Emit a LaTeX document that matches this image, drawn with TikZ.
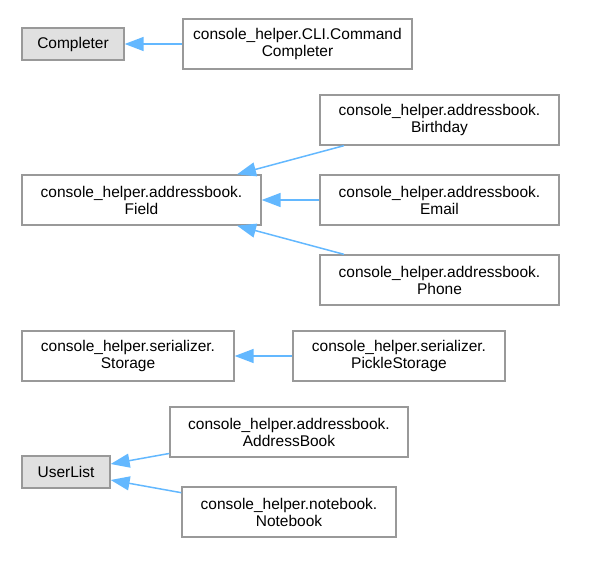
\documentclass[tikz,border=0pt]{standalone}
\usepackage{fontspec}
\setmainfont{Liberation Sans}
\usetikzlibrary{arrows.meta}
\definecolor{edgeblue}{HTML}{63B8FF}
\definecolor{boxgray}{HTML}{999999}
\definecolor{extfill}{HTML}{E0E0E0}
\tikzset{
	cls/.style={draw=boxgray, line width=1.3pt, fill=white, align=center, inner sep=0pt,
		minimum height=50pt, font=\fontsize{15.5}{17}\selectfont},
	extcls/.style={cls, fill=extfill, minimum height=32pt},
	inherit/.style={edgeblue, line width=1.5pt, -{Triangle[length=19pt, width=14pt]}}
}
\begin{document}
\begin{tikzpicture}[x=1pt, y=-1pt]
	\useasboundingbox (0, 0) rectangle (592, 575);
	% completer
	\node[extcls, minimum width=102pt] (completer) at (73, 44) {Completer};
	\node[cls, minimum width=229pt] (cmdcompleter) at (297.5, 44) {console\_helper.CLI.Command\\Completer};
	% fields
	\node[cls, minimum width=239pt] (field) at (141.5, 200) {console\_helper.addressbook.\\Field};
	\node[cls, minimum width=239pt] (birthday) at (439.5, 120) {console\_helper.addressbook.\\Birthday};
	\node[cls, minimum width=239pt] (email) at (439.5, 200) {console\_helper.addressbook.\\Email};
	\node[cls, minimum width=239pt] (phone) at (439.5, 280) {console\_helper.addressbook.\\Phone};
	% storage
	\node[cls, minimum width=212pt] (storage) at (128, 356) {console\_helper.serializer.\\Storage};
	\node[cls, minimum width=212pt] (picklestorage) at (399, 356) {console\_helper.serializer.\\PickleStorage};
	% userlist
	\node[extcls, minimum width=88pt] (userlist) at (66, 472) {UserList};
	\node[cls, minimum width=238pt] (addressbook) at (289, 432) {console\_helper.addressbook.\\AddressBook};
	\node[cls, minimum width=214pt] (notebook) at (289, 512) {console\_helper.notebook.\\Notebook};

	\draw[inherit] (cmdcompleter) -- (completer);
	\foreach \sub in {birthday, email, phone}
		\draw[inherit] (\sub) -- (field);
	\draw[inherit] (picklestorage) -- (storage);
	\draw[inherit] (addressbook) -- (userlist);
	\draw[inherit] (notebook) -- (userlist);
\end{tikzpicture}
\end{document}
